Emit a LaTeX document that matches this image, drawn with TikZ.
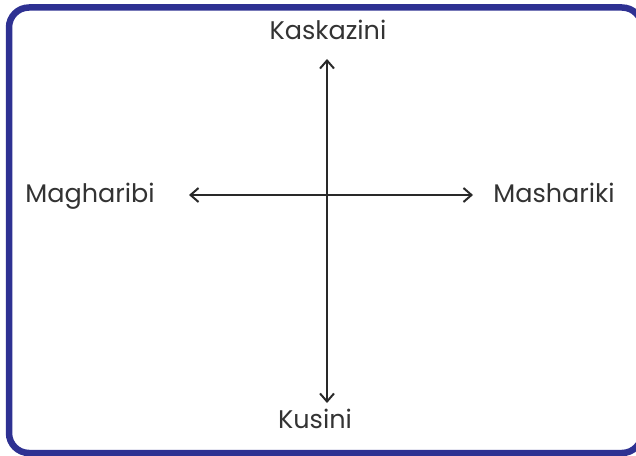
\documentclass[tikz,border=0pt]{standalone}
\usepackage{fontspec}
\setmainfont{Poppins}
\usetikzlibrary{arrows.meta}
\definecolor{framecol}{HTML}{2E3192}
\definecolor{textcol}{HTML}{333333}

\begin{document}
\begin{tikzpicture}[x=1pt,y=1pt,>={Straight Barb[length=8pt,width=14pt]},
  lbl/.style={text=textcol,font=\fontsize{25.5}{28}\selectfont,inner sep=0pt,anchor=base}]
\useasboundingbox (0,0) rectangle (636,455);
\pgfmathsetmacro{\xc}{327}
\pgfmathsetmacro{\yc}{260}

% frame
\draw[framecol,line width=6.5pt,rounded corners=20pt] (9,2) rectangle (642,447.5);

% compass points
\path (\xc,396) coordinate (ntip) (\xc,52) coordinate (stip)
(189,\yc) coordinate (wtip) (473,\yc) coordinate (etip);
\draw[<->,line width=2pt,textcol!80!black] (ntip)--(stip);
\draw[<->,line width=2pt,textcol!80!black] (wtip)--(etip);

\node[lbl] (kaskazini) at (328,415.7) {Kaskazini};
\node[lbl] (kusini) at (315,27) {Kusini};
\node[lbl] (magharibi) at (90,252) {Magharibi};
\node[lbl] (mashariki) at (554,252) {Mashariki};

\end{tikzpicture}
\end{document}
